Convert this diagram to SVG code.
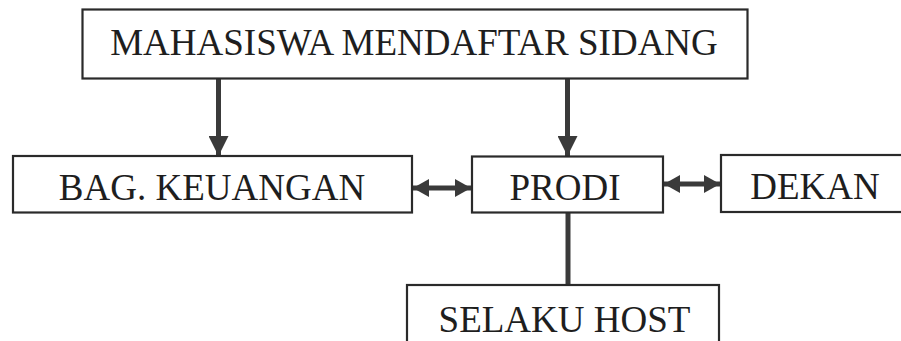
<svg xmlns="http://www.w3.org/2000/svg" width="901" height="341" viewBox="0 0 901 341">
<style>
.box{fill:#fff;stroke:#2a2a2a;stroke-width:2.2}
.lbl{font-family:"Liberation Serif","Times New Roman",serif;font-size:37px;fill:#1e1e1e;text-anchor:middle}
.con{stroke:#3a3a3a;stroke-width:5;fill:none}
</style>
<defs>
<marker id="ahV" markerUnits="userSpaceOnUse" viewBox="0 0 20 20" refX="20" refY="10" markerWidth="20" markerHeight="20" orient="auto-start-reverse">
<path d="M0,0 L20,10 L0,20 Z" fill="#3a3a3a"/>
</marker>
<marker id="ahH" markerUnits="userSpaceOnUse" viewBox="0 0 16 18" refX="16" refY="9" markerWidth="16" markerHeight="18" orient="auto-start-reverse">
<path d="M0,0 L16,9 L0,18 Z" fill="#3a3a3a"/>
</marker>
</defs>
<rect width="901" height="341" fill="#fff"/>
<g id="connectors">
<line class="con" x1="218.5" y1="79" x2="218.5" y2="156" marker-end="url(#ahV)"/>
<line class="con" x1="567.5" y1="79" x2="567.5" y2="156" marker-end="url(#ahV)"/>
<line class="con" x1="413" y1="188" x2="471" y2="188" marker-start="url(#ahH)" marker-end="url(#ahH)"/>
<line class="con" x1="664" y1="184" x2="720" y2="184" marker-start="url(#ahH)" marker-end="url(#ahH)"/>
<line class="con" x1="568" y1="213" x2="568" y2="285"/>
</g>
<g id="mahasiswa">
<rect class="box" x="82.5" y="9.5" width="665" height="69"/>
<text class="lbl" x="414" y="55">MAHASISWA MENDAFTAR SIDANG</text>
</g>
<g id="keuangan">
<rect class="box" x="13" y="156" width="399" height="56.5"/>
<text class="lbl" x="212" y="200">BAG. KEUANGAN</text>
</g>
<g id="prodi">
<rect class="box" x="472" y="156.5" width="191" height="56"/>
<text class="lbl" x="565" y="200">PRODI</text>
</g>
<g id="dekan">
<rect class="box" x="721" y="155" width="190" height="57"/>
<text class="lbl" x="815" y="199">DEKAN</text>
</g>
<g id="selaku">
<rect class="box" x="407" y="285" width="312" height="80"/>
<text class="lbl" x="564.5" y="332">SELAKU HOST</text>
</g>
</svg>
